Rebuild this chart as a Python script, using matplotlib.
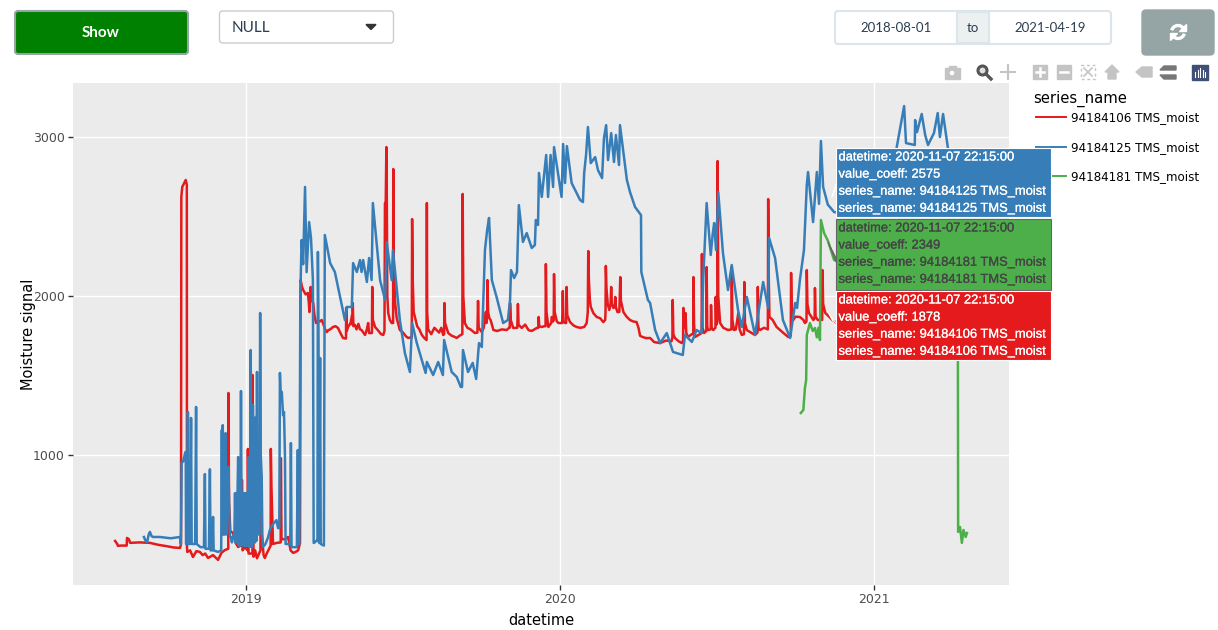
import matplotlib
matplotlib.use('Agg')
import matplotlib.pyplot as plt
import matplotlib.patheffects as pe
from matplotlib.patches import Rectangle, FancyBboxPatch, Polygon, Circle, Arc

RED = '#e41a1c'
BLUE = '#377eb8'
GREEN = '#4daf4a'
UI_FONT = 'Lato'
HOVER_FONT = 'Liberation Sans'

series_names = ['94184106 TMS_moist', '94184125 TMS_moist', '94184181 TMS_moist']

# dates as decimal years
red_x = [2018.583, 2018.590, 2018.592, 2018.600, 2018.620, 2018.621, 2018.627, 2018.631, 2018.660, 2018.694,
         2018.720, 2018.742, 2018.770, 2018.790, 2018.793, 2018.794, 2018.797, 2018.808, 2018.8115, 2018.812,
         2018.813, 2018.822, 2018.831, 2018.842, 2018.853, 2018.862, 2018.870, 2018.879, 2018.895, 2018.911,
         2018.922, 2018.933, 2018.9435, 2018.944, 2018.946, 2018.950, 2018.959, 2018.966, 2018.975, 2018.983,
         2018.986, 2018.987, 2018.989, 2018.996, 2019.005, 2019.006, 2019.008, 2019.0205, 2019.021, 2019.0225,
         2019.024, 2019.029, 2019.035, 2019.046, 2019.048, 2019.050, 2019.056, 2019.060, 2019.066, 2019.0785,
         2019.079, 2019.081, 2019.086, 2019.098, 2019.1105, 2019.111, 2019.113, 2019.125, 2019.134, 2019.142,
         2019.150, 2019.158, 2019.166, 2019.172, 2019.174, 2019.178, 2019.182, 2019.190, 2019.197, 2019.200,
         2019.202, 2019.204, 2019.206, 2019.209, 2019.214, 2019.218, 2019.223, 2019.229, 2019.235, 2019.241,
         2019.247, 2019.252, 2019.257, 2019.262, 2019.268, 2019.277, 2019.285, 2019.293, 2019.300, 2019.309,
         2019.318, 2019.3185, 2019.319, 2019.321, 2019.325, 2019.333, 2019.338, 2019.339, 2019.340, 2019.342,
         2019.347, 2019.352, 2019.358, 2019.363, 2019.368, 2019.379, 2019.385, 2019.389, 2019.392, 2019.401,
         2019.402, 2019.404, 2019.411, 2019.420, 2019.430, 2019.437, 2019.441, 2019.4425, 2019.445, 2019.447,
         2019.4485, 2019.450, 2019.453, 2019.458, 2019.464, 2019.4685, 2019.469, 2019.4705, 2019.475, 2019.480,
         2019.490, 2019.500, 2019.510, 2019.517, 2019.525, 2019.528, 2019.529, 2019.531, 2019.534, 2019.538,
         2019.545, 2019.552, 2019.560, 2019.568, 2019.575, 2019.576, 2019.577, 2019.580, 2019.590, 2019.600,
         2019.607, 2019.615, 2019.622, 2019.628, 2019.631, 2019.632, 2019.634, 2019.644, 2019.655, 2019.662,
         2019.671, 2019.680, 2019.689, 2019.690, 2019.692, 2019.697, 2019.705, 2019.715, 2019.729, 2019.737,
         2019.739, 2019.741, 2019.751, 2019.757, 2019.761, 2019.764, 2019.766, 2019.768, 2019.769, 2019.771,
         2019.775, 2019.779, 2019.788, 2019.800, 2019.815, 2019.830, 2019.838, 2019.840, 2019.841, 2019.843,
         2019.851, 2019.864, 2019.866, 2019.868, 2019.878, 2019.889, 2019.900, 2019.910, 2019.926, 2019.931,
         2019.932, 2019.934, 2019.942, 2019.950, 2019.954, 2019.955, 2019.957, 2019.963, 2019.972, 2019.974,
         2019.978, 2019.980, 2019.981, 2019.983, 2019.990, 2019.995, 2020.004, 2020.007, 2020.009, 2020.011,
         2020.016, 2020.0195, 2020.021, 2020.023, 2020.032, 2020.043, 2020.053, 2020.065, 2020.077, 2020.085,
         2020.0885, 2020.090, 2020.092, 2020.095, 2020.098, 2020.107, 2020.117, 2020.128, 2020.138, 2020.144,
         2020.145, 2020.146, 2020.148, 2020.152, 2020.157, 2020.161, 2020.163, 2020.165, 2020.170, 2020.174,
         2020.176, 2020.178, 2020.183, 2020.189, 2020.192, 2020.194, 2020.202, 2020.212, 2020.223, 2020.233,
         2020.244, 2020.250, 2020.255, 2020.263, 2020.275, 2020.287, 2020.300, 2020.319, 2020.338, 2020.355,
         2020.358, 2020.359, 2020.361, 2020.366, 2020.378, 2020.388, 2020.392, 2020.393, 2020.395, 2020.399,
         2020.400, 2020.402, 2020.407, 2020.420, 2020.4245, 2020.425, 2020.427, 2020.430, 2020.445, 2020.451,
         2020.452, 2020.454, 2020.459, 2020.466, 2020.467, 2020.469, 2020.471, 2020.480, 2020.481, 2020.483,
         2020.488, 2020.495, 2020.496, 2020.498, 2020.501, 2020.502, 2020.504, 2020.510, 2020.520, 2020.535,
         2020.546, 2020.547, 2020.549, 2020.554, 2020.560, 2020.568, 2020.572, 2020.579, 2020.586, 2020.587,
         2020.589, 2020.595, 2020.608, 2020.621, 2020.629, 2020.630, 2020.632, 2020.637, 2020.650, 2020.662,
         2020.663, 2020.665, 2020.667, 2020.677, 2020.690, 2020.710, 2020.727, 2020.735, 2020.736, 2020.738,
         2020.743, 2020.750, 2020.764, 2020.775, 2020.780, 2020.785, 2020.786, 2020.788, 2020.793, 2020.807,
         2020.811, 2020.812, 2020.814, 2020.821, 2020.830, 2020.835, 2020.836, 2020.838, 2020.845, 2020.853,
         2020.874, 2020.956]
red_y = [459, 440, 428, 430, 430, 478, 470, 447, 450, 447,
         435, 428, 418, 415, 440, 2623, 2686, 2730, 2700, 420,
         390, 400, 358, 395, 390, 370, 380, 352, 370, 340,
         385, 402, 410, 1390, 700, 520, 509, 450, 421, 430,
         430, 843, 400, 420, 400, 1038, 380, 380, 1503, 900,
         360, 400, 350, 400, 862, 500, 370, 352, 380, 430,
         1038, 800, 440, 447, 450, 980, 470, 470, 484, 400,
         384, 390, 400, 447, 2100, 2060, 2038, 2010, 2019, 1960,
         1899, 1960, 2057, 1980, 1956, 1880, 1830, 1845, 1840, 1849,
         1820, 1790, 1773, 1785, 1790, 1805, 1810, 1799, 1770, 1736,
         1732, 1736, 1925, 1780, 1805, 1830, 1880, 1820, 1956, 1810,
         1818, 1790, 1825, 1790, 1786, 1755, 1790, 1830, 1767, 1767,
         2057, 1850, 1805, 1785, 1760, 1755, 1780, 2585, 2590, 2937,
         2600, 2000, 1893, 1850, 1830, 1830, 2799, 2200, 1956, 1860,
         1786, 1770, 1745, 1736, 1740, 1740, 2484, 2100, 1900, 1868,
         1810, 1790, 1755, 1735, 1723, 2585, 1900, 1790, 1760, 1800,
         1786, 1770, 1800, 1755, 1760, 1956, 1830, 1767, 1750, 1745,
         1736, 1750, 1760, 2642, 2000, 1830, 1800, 1790, 1767, 1770,
         1969, 1800, 1773, 1800, 1849, 1900, 1830, 1900, 2100, 1900,
         1860, 1849, 1786, 1780, 1790, 1786, 1800, 1800, 1956, 1850,
         1799, 1800, 1950, 1820, 1799, 1820, 1785, 1780, 1799, 1800,
         1868, 1810, 1805, 1810, 1810, 2201, 1900, 1805, 1830, 1868,
         1840, 1850, 2138, 1900, 1840, 1830, 1830, 1830, 2031, 1840,
         1830, 1830, 2057, 1880, 1836, 1815, 1805, 1800, 1805, 1830,
         1900, 2283, 2100, 1980, 1931, 1890, 1868, 1860, 1836, 1850,
         1900, 2189, 2050, 1950, 1912, 1950, 2057, 1950, 1925, 1930,
         1994, 1930, 1899, 1900, 2119, 1970, 1899, 1870, 1849, 1840,
         1836, 1800, 1750, 1742, 1735, 1736, 1710, 1704, 1720, 1715,
         1740, 1975, 1760, 1736, 1715, 1704, 1720, 1925, 1800, 1800,
         1893, 1770, 1742, 1760, 1760, 2119, 1820, 1742, 1760, 1767,
         2264, 1800, 1767, 1780, 2182, 1810, 1786, 1790, 1943, 1800,
         1786, 1800, 1994, 1820, 1840, 2849, 2000, 1830, 1800, 1786,
         1790, 2182, 1850, 1786, 1790, 1893, 1790, 1755, 1760, 2088,
         1830, 1786, 1770, 1755, 1770, 2057, 1800, 1786, 1800, 1790,
         2610, 2100, 1868, 1850, 1805, 1770, 1742, 1750, 2145, 1900,
         1849, 1870, 1868, 1850, 1830, 1840, 2163, 1950, 1893, 1849,
         1860, 2050, 1870, 1849, 1850, 1850, 2163, 1950, 1893, 1878,
         1836, 1850]

blue_x = [2018.675, 2018.680, 2018.685, 2018.690, 2018.694, 2018.699, 2018.704, 2018.726, 2018.760, 2018.790,
          2018.7925, 2018.794, 2018.795, 2018.800, 2018.806, 2018.808, 2018.809, 2018.811, 2018.815, 2018.8175,
          2018.822, 2018.825, 2018.827, 2018.838, 2018.841, 2018.843, 2018.855, 2018.866, 2018.869, 2018.871,
          2018.882, 2018.885, 2018.887, 2018.893, 2018.895, 2018.897, 2018.911, 2018.921, 2018.923, 2018.9245,
          2018.926, 2018.928, 2018.930, 2018.932, 2018.935, 2018.937, 2018.939, 2018.941, 2018.944, 2018.947,
          2018.949, 2018.952, 2018.955, 2018.958, 2018.961, 2018.963, 2018.965, 2018.967, 2018.969, 2018.971,
          2018.973, 2018.975, 2018.977, 2018.979, 2018.981, 2018.982, 2018.984, 2018.986, 2018.988, 2018.990,
          2018.992, 2018.994, 2018.996, 2018.998, 2019.000, 2019.002, 2019.004, 2019.008, 2019.010, 2019.013,
          2019.015, 2019.017, 2019.020, 2019.022, 2019.024, 2019.029, 2019.031, 2019.033, 2019.035, 2019.037,
          2019.043, 2019.045, 2019.047, 2019.050, 2019.052, 2019.054, 2019.062, 2019.070, 2019.076, 2019.084,
          2019.092, 2019.097, 2019.102, 2019.106, 2019.108, 2019.110, 2019.114, 2019.118, 2019.121, 2019.124,
          2019.126, 2019.130, 2019.141, 2019.143, 2019.145, 2019.162, 2019.165, 2019.167, 2019.170, 2019.173,
          2019.177, 2019.182, 2019.188, 2019.193, 2019.201, 2019.207, 2019.213, 2019.2155, 2019.217, 2019.224,
          2019.2275, 2019.229, 2019.231, 2019.233, 2019.236, 2019.238, 2019.248, 2019.251, 2019.268, 2019.283,
          2019.315,
          2019.321, 2019.337, 2019.341, 2019.353, 2019.363, 2019.368, 2019.373, 2019.385, 2019.392, 2019.400,
          2019.404, 2019.427, 2019.443, 2019.448, 2019.464, 2019.468, 2019.490, 2019.506, 2019.522, 2019.529,
          2019.544, 2019.572, 2019.576, 2019.596, 2019.612, 2019.627, 2019.631, 2019.655, 2019.671, 2019.684,
          2019.688, 2019.691, 2019.707, 2019.722, 2019.733, 2019.742, 2019.751, 2019.761, 2019.768, 2019.774,
          2019.783, 2019.798, 2019.819, 2019.834, 2019.841, 2019.844, 2019.854, 2019.863, 2019.869, 2019.882,
          2019.894, 2019.910, 2019.920, 2019.923, 2019.930, 2019.933, 2019.942, 2019.956, 2019.962, 2019.970,
          2019.978, 2019.981, 2020.005, 2020.010, 2020.016, 2020.022, 2020.037, 2020.064, 2020.073, 2020.077,
          2020.083, 2020.089, 2020.098, 2020.112, 2020.121, 2020.134, 2020.140, 2020.147, 2020.153, 2020.163,
          2020.172, 2020.178, 2020.188, 2020.191, 2020.213, 2020.223, 2020.239, 2020.258, 2020.259, 2020.280,
          2020.287, 2020.303, 2020.319, 2020.340, 2020.360, 2020.391, 2020.398, 2020.420, 2020.435, 2020.451,
          2020.456, 2020.467, 2020.480, 2020.486, 2020.491, 2020.497, 2020.504, 2020.519, 2020.535, 2020.547,
          2020.567, 2020.579, 2020.595, 2020.621, 2020.647, 2020.663, 2020.666, 2020.685, 2020.710, 2020.733,
          2020.749, 2020.755, 2020.764, 2020.777, 2020.786, 2020.790, 2020.806, 2020.818, 2020.825, 2020.831,
          2020.838, 2020.853, 2020.873, 2020.950, 2021.060, 2021.096, 2021.102, 2021.130, 2021.131, 2021.137,
          2021.147, 2021.152, 2021.163, 2021.172, 2021.191, 2021.203, 2021.210, 2021.220, 2021.235, 2021.249]
blue_y = [484, 460, 450, 500, 516, 490, 484, 484, 476, 484,
          440, 700, 950, 960, 1012, 1020, 440, 440, 1270, 440,
          440, 1233, 440, 440, 1302, 440, 420, 420, 880, 410,
          410, 910, 400, 400, 610, 400, 390, 400, 1157, 500,
          1188, 500, 1000, 500, 1138, 500, 925, 700, 925, 600,
          484, 484, 450, 484, 500, 500, 760, 450, 760, 450,
          760, 987, 430, 760, 430, 430, 1402, 500, 760, 430,
          760, 430, 760, 430, 760, 430, 450, 987, 420, 450,
          1660, 420, 420, 1314, 450, 450, 1239, 460, 1522, 500,
          500, 1893, 1000, 862, 500, 421, 440, 480, 528, 560,
          578, 590, 540, 540, 1516, 1400, 1396, 1250, 1270, 1000,
          440, 440, 440, 1075, 420, 420, 1031, 440, 440, 2000,
          2352, 2200, 2686, 2150, 2465, 2365, 2100, 447, 447, 460,
          460, 2277, 1700, 447, 1610, 440, 430, 2384, 2207, 2151,
          1849,
          1931, 1931, 2207, 2151, 2226, 2151, 2226, 2088, 2239, 2100,
          2585, 2100, 1975, 2340, 2100, 2289, 1849, 1641, 1522, 1830,
          1704, 1516, 1585, 1503, 1585, 1503, 1723, 1522, 1491, 1428,
          1428, 1660, 1522, 1579, 1478, 1704, 1679, 2289, 2415, 2491,
          2100, 1994, 1830, 1849, 1975, 2163, 2113, 2151, 2572, 2340,
          2396, 2302, 2321, 2478, 2447, 2774, 2623, 2887, 2623, 2887,
          2686, 2937, 2623, 2956, 2711, 2943, 2711, 2604, 2591, 2774,
          2887, 3063, 2836, 2874, 2792, 2742, 2994, 3075, 2855, 3025,
          2843, 3013, 2824, 3075, 2730, 2654, 2560, 2509, 2151, 1975,
          1956, 1786, 1704, 1767, 1648, 1629, 1755, 1711, 1786, 1767,
          2100, 2585, 2258, 2384, 2459, 2289, 2654, 2270, 2038, 2195,
          1912, 1805, 1994, 1755, 2088, 1925, 2365, 2239, 1849, 1736,
          1956, 1925, 2100, 2289, 2698, 2780, 2465, 2780, 2580, 2975,
          2686, 2575, 2528, 2500, 2800, 3195, 2962, 2950, 3107, 3031,
          3107, 3145, 3013, 2950, 3025, 3151, 3000, 3145, 2937, 2700]

green_x = [2020.767, 2020.775, 2020.780, 2020.784, 2020.786, 2020.796, 2020.805, 2020.812, 2020.818, 2020.823,
           2020.828, 2020.831, 2020.841, 2020.853, 2020.873, 2020.950, 2021.267, 2021.268, 2021.274, 2021.280,
           2021.285, 2021.292, 2021.296]
green_y = [1264, 1283, 1421, 1472, 1755, 1830, 1780, 1799, 1740, 1800,
           1723, 2478, 2396, 2349, 2226, 2200, 2000, 516, 547, 447,
           528, 484, 509]

y_ticks = [1000, 2000, 3000]
x_ticks = [2019, 2020, 2021]
x_tick_labels = ['2019', '2020', '2021']

start_date = '2018-08-01'
end_date = '2021-04-19'

hover_dates = ['2020-11-07 22:15:00'] * 3
hover_values = [2575, 2349, 1878]
hover_series = [series_names[1], series_names[2], series_names[0]]

fig = plt.figure(figsize=(12.18, 6.3), dpi=100)
ax = fig.add_axes([73 / 1218, 45 / 630, 936 / 1218, 502 / 630])
ax.set_facecolor('#ebebeb')
ax.plot(red_x, red_y, color=RED, lw=1.8, label=series_names[0])
ax.plot(blue_x, blue_y, color=BLUE, lw=1.8, label=series_names[1])
ax.plot(green_x, green_y, color=GREEN, lw=1.8, label=series_names[2])
ax.set_xlim(2018.449, 2021.430)
ax.set_ylim(182, 3340)
ax.set_xticks(x_ticks)
ax.set_xticklabels(x_tick_labels)
ax.set_yticks(y_ticks)
ax.grid(color='white', lw=1)
ax.set_axisbelow(True)
for side in ax.spines:
    ax.spines[side].set_visible(False)
ax.tick_params(length=3.5, width=1, color='#333333', labelcolor='#4d4d4d', labelsize=9, pad=2.5)
ax.set_xlabel('datetime', fontsize=10.5, labelpad=5)
ax.set_ylabel('Moisture signal', fontsize=10.5, labelpad=-2)

legend = ax.legend(loc='upper left', bbox_to_anchor=(1036 / 1218, 518.5 / 630),
                   bbox_transform=fig.transFigure, frameon=False, fontsize=8.6,
                   labelspacing=1.37, handlelength=2.5, handletextpad=0.42,
                   borderaxespad=0, borderpad=0)
for handle in legend.get_lines():
    handle.set_linewidth(1.4)

# page controls and hover boxes are drawn in pixel coordinates on top of the plot
ui = fig.add_axes([0, 0, 1, 1], zorder=5)
ui.set_xlim(0, 1218)
ui.set_ylim(630, 0)
ui.axis('off')
ui.patch.set_alpha(0)

ui.text(1033, 99, 'series_name', fontsize=10.7, va='center')


def round_box(x0, y0, x1, y1, face, edge, lw=1, rad=3):
    ui.add_patch(FancyBboxPatch((x0 + rad, y0 + rad), x1 - x0 - 2 * rad, y1 - y0 - 2 * rad,
                                boxstyle='round,pad=%d,rounding_size=%d' % (rad, rad),
                                facecolor=face, edgecolor=edge, lw=lw))


round_box(15, 11, 188, 54, '#008000', '#95a5a6', lw=1.5)
ui.text(101, 33, 'Show', color='white', fontsize=11, fontweight='bold', family=UI_FONT,
        ha='center', va='center')

round_box(219.5, 11, 393.5, 43, 'white', '#cccccc')
ui.text(232, 28, 'NULL', color='#2c3e50', fontsize=11, family=UI_FONT, va='center')
ui.add_patch(Polygon([(366, 24.5), (376, 24.5), (371, 29.5)], color='#333333'))

round_box(835, 11, 1111, 44, 'white', '#dce4ec', lw=1.5)
ui.add_patch(Rectangle((957, 12), 32, 31, facecolor='#ecf0f1', edgecolor='#dce4ec', lw=1.5))
ui.text(896, 28, start_date, color='#2c3e50', fontsize=9.5, family=UI_FONT, ha='center', va='center')
ui.text(973, 28, 'to', color='#2c3e50', fontsize=9.5, family=UI_FONT, ha='center', va='center')
ui.text(1050, 28, end_date, color='#2c3e50', fontsize=9.5, family=UI_FONT, ha='center', va='center')

round_box(1142, 10, 1214, 55, '#95a5a6', '#95a5a6', rad=4)
ui.add_patch(Arc((1178, 32), 13, 13, theta1=195, theta2=320, color='white', lw=2.4))
ui.add_patch(Arc((1178, 32), 13, 13, theta1=15, theta2=140, color='white', lw=2.4))
ui.add_patch(Polygon([(1186, 24), (1186, 31), (1179, 31)], color='white'))
ui.add_patch(Polygon([(1170, 40), (1170, 33), (1177, 33)], color='white'))

# modebar
ICON = '#c4c4c4'
ui.add_patch(Rectangle((945, 68), 15, 11, color=ICON))
ui.add_patch(Rectangle((949, 66), 7, 3, color=ICON))
ui.add_patch(Circle((952, 73), 3, facecolor='white', edgecolor=ICON))
ui.add_patch(Circle((982.5, 70.5), 4.5, facecolor='#e0e0e0', edgecolor='#555555', lw=2.2))
ui.plot([986, 991], [74, 79], color='#555555', lw=2.4)
ui.plot([1001, 1015], [72, 72], color=ICON, lw=1.5)
ui.plot([1008, 1008], [65, 79], color=ICON, lw=1.5)
ui.add_patch(Rectangle((1033, 65), 14, 14, color=ICON))
ui.plot([1036, 1044], [72, 72], color='white', lw=1.8)
ui.plot([1040, 1040], [68, 76], color='white', lw=1.8)
ui.add_patch(Rectangle((1057, 65), 14, 14, color=ICON))
ui.plot([1060, 1068], [72, 72], color='white', lw=1.8)
ui.add_patch(Rectangle((1081, 65), 14, 14, fill=False, edgecolor=ICON, lw=1, ls=(0, (2, 2))))
ui.plot([1084, 1092], [68, 76], color=ICON, lw=1.2)
ui.plot([1084, 1092], [76, 68], color=ICON, lw=1.2)
ui.add_patch(Polygon([(1105, 72), (1112, 65), (1119, 72), (1116, 72), (1116, 79), (1108, 79), (1108, 72)],
                     color=ICON))
ui.add_patch(Polygon([(1136, 72), (1142, 67), (1152, 67), (1152, 77), (1142, 77)], color=ICON))
ui.add_patch(Polygon([(1160, 70), (1164, 66), (1176, 66), (1176, 70)], color='#777777'))
ui.add_patch(Polygon([(1160, 75), (1164, 79), (1176, 79), (1176, 75)], color='#777777'))
ui.add_patch(Rectangle((1192, 65), 16, 15, color='#3f4f75'))
for i, top in enumerate([72, 70, 68, 70, 72]):
    ui.plot([1195 + i * 2.5, 1195 + i * 2.5], [top, 77], color='white', lw=0.8)

# hover boxes, stacked as in the browser
hover_boxes = [(148, 217, BLUE, 'white', 'white'),
               (219, 290, GREEN, '#444444', '#666666'),
               (291, 360, RED, 'white', 'white')]
pointers = [[(832, 197), (836, 184), (836, 187)],
            [(828, 242), (836, 258), (836, 262)],
            [(829, 314), (836, 323), (836, 327)]]
for i in range(3):
    top, bottom, face, text_color, edge = hover_boxes[i]
    ui.add_patch(Polygon(pointers[i], facecolor=face, edgecolor=edge, lw=0.8))
    ui.add_patch(Rectangle((836, top), 215, bottom - top, facecolor=face, edgecolor=edge, lw=0.8))
    lines = ['datetime: ' + hover_dates[i], 'value_coeff: %d' % hover_values[i],
             'series_name: ' + hover_series[i], 'series_name: ' + hover_series[i]]
    for j in range(4):
        ui.text(838.5, top + 9.5 + j * 17.1, lines[j], color=text_color, fontsize=9.3,
                family=HOVER_FONT, va='center',
                path_effects=[pe.withStroke(linewidth=0.15, foreground=text_color)])

plt.savefig('out.png', dpi=100)
